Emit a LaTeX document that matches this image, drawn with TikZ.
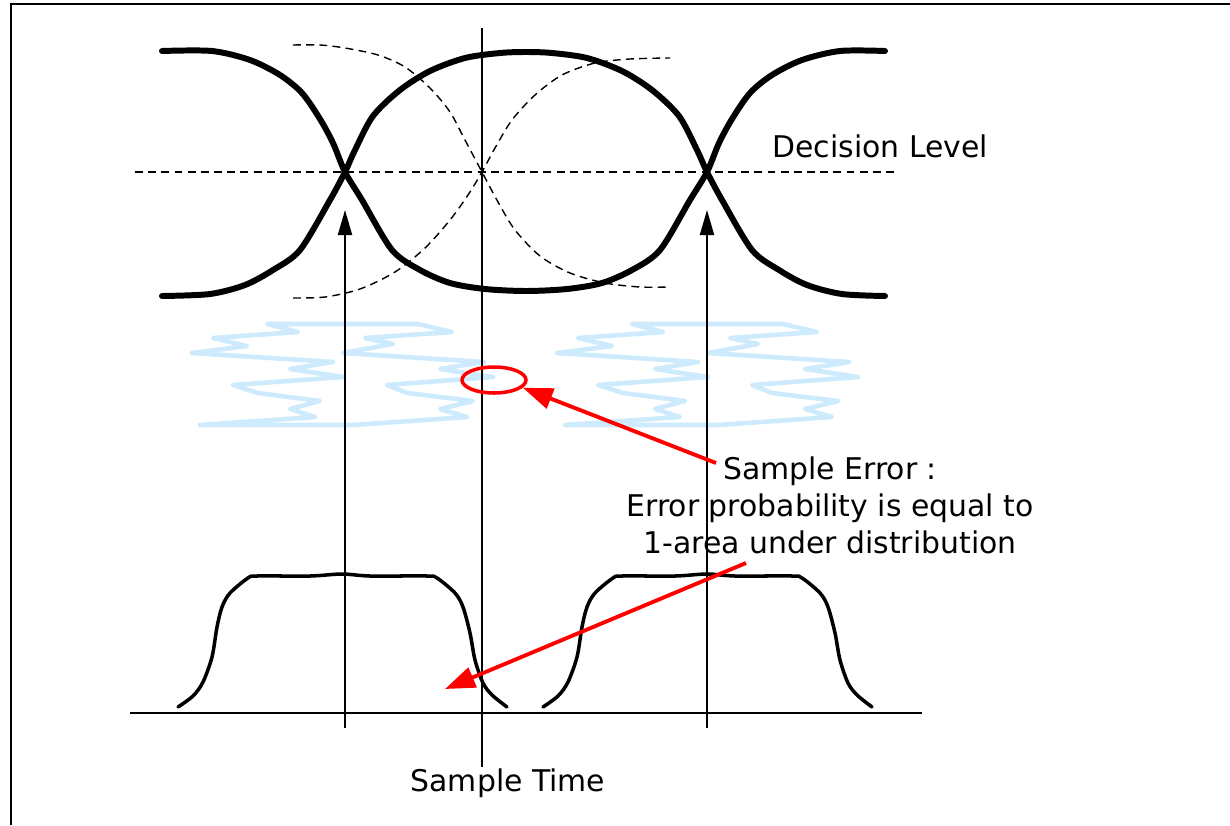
\documentclass[tikz,border=0pt]{standalone}
\usepackage{fontspec}
\setmainfont{DejaVu Sans}
\usetikzlibrary{arrows.meta, shapes.geometric}
\definecolor{zigblue}{RGB}{205,235,252}
\tikzset{
  eyeline/.style={line width=3.4pt, line join=round, line cap=round},
  ghost/.style={line width=0.8pt, dash pattern=on 4.5pt off 3pt},
  zig/.style={draw=zigblue, line width=2.6pt, line join=round, line cap=round},
  dist/.style={line width=2pt, line join=round, line cap=round},
  arr/.style={-{Triangle[length=0.5cm, width=0.28cm]}, line width=1.1pt},
  errarr/.style={red, line width=2.2pt, -{Triangle[length=0.6cm, width=0.42cm]}},
  lbl/.style={font=\fontsize{17}{21}\selectfont, inner sep=0pt},
}
\begin{document}
\begin{tikzpicture}[x=0.02cm, y=-0.02cm]
  \useasboundingbox (0,0) rectangle (1230,825);
  % frame
  \draw[line width=1.6pt] (11,825) -- (11,4) -- (1230,4);
  % jitter zigzags
  \foreach \dx in {0,365} {
    \draw[zig, shift={(\dx,0)}] (200,425) -- (315,417) -- (290,409) -- (320,401)
      -- (258,393) -- (233,385) -- (343,377) -- (290,369) -- (333,362)
      -- (192,353) -- (247,346) -- (213,338) -- (298,332) -- (267,324)
      -- (418,324) -- (452,332) -- (365,338) -- (393,344) -- (343,353)
      -- (484,362) -- (440,369) -- (493,377) -- (387,385) -- (407,393)
      -- (473,401) -- (440,409) -- (467,417) -- (353,425) -- cycle;
  }
  % decision level, time axis, sample time
  \coordinate (dl-w) at (135,172);
  \coordinate (dl-e) at (898,172);
  \draw[ghost] (dl-w) -- (dl-e);
  \coordinate (base-w) at (130,713);
  \coordinate (base-e) at (922,713);
  \draw[line width=1.1pt] (base-w) -- (base-e);
  \coordinate (st-top) at (482,28);
  \coordinate (st-bot) at (482,767);
  \draw[line width=1.1pt] (st-top) -- (st-bot);
  % crossing points
  \coordinate (xl) at (345,210);
  \coordinate (xl-bot) at (345,728);
  \coordinate (xr) at (707,210);
  \coordinate (xr-bot) at (707,728);
  \draw[arr] (xl-bot) -- (xl);
  \draw[arr] (xr-bot) -- (xr);
  % shifted (late) eye
  \draw[ghost] plot[smooth, tension=0.5] coordinates {(293,45) (320,45) (345,48)
    (378,55) (405,67) (430,88) (450,112) (465,140) (482,172) (498,202) (515,230)
    (540,256) (570,273) (605,283) (640,287) (670,287)};
  \draw[ghost] plot[smooth, tension=0.5] coordinates {(293,298) (325,297) (360,289)
    (395,272) (425,248) (450,220) (468,195) (482,172) (495,148) (512,120)
    (535,95) (562,75) (595,63) (630,59) (670,58)};
  % eye
  \draw[eyeline] plot[smooth, tension=0.5] coordinates {(162,51) (212,51) (250,60)
    (280,75) (302,93) (320,119) (333,143) (345,172) (362,200) (392,250) (420,270)
    (450,283) (485,289) (526,291) (567,289) (602,283) (632,270) (660,250)
    (690,200) (707,172) (719,143) (732,119) (750,93) (772,75) (802,60)
    (840,51) (885,51)};
  \draw[eyeline] plot[smooth, tension=0.5] coordinates {(162,296) (210,294)
    (245,285) (273,270) (300,250) (330,200) (345,172) (355,150) (373,116)
    (400,90) (430,71) (465,58) (500,53) (526,52) (552,53) (587,58) (622,71)
    (652,90) (679,116) (697,150) (707,172) (722,200) (752,250) (779,270)
    (807,285) (842,294) (885,296)};
  % sampled distributions
  \foreach \dx in {0,365} {
    \draw[dist, shift={(\dx,0)}] plot[smooth, tension=0.5] coordinates {(178,707)
      (193,696) (203,682) (212,657) (217,627) (222,607) (230,593) (248,578)
      (257,576) (310,576) (342,574) (370,576) (427,576) (437,578) (455,593)
      (463,607) (470,633) (475,660) (483,683) (492,695) (507,707)};
  }
  % error mark
  \node[ellipse, draw=red, line width=2pt, minimum width=1.28cm,
    minimum height=0.52cm, inner sep=0pt] (ring) at (494,380) {};
  % labels
  \node[lbl, anchor=west] (decision) at (772,146) {Decision Level};
  \node[lbl] (stime) at (508,783) {Sample Time};
  \node[lbl, align=center] (err) at (830,505)
    {Sample Error :\\Error probability is equal to\\1-area under distribution};
  \coordinate (err-a) at (716,463);
  \coordinate (err-b) at (746,563);
  \coordinate (tailhit) at (445,689);
  \draw[errarr] (err-a) -- (ring.-15);
  \draw[errarr] (err-b) -- (tailhit);
\end{tikzpicture}
\end{document}
